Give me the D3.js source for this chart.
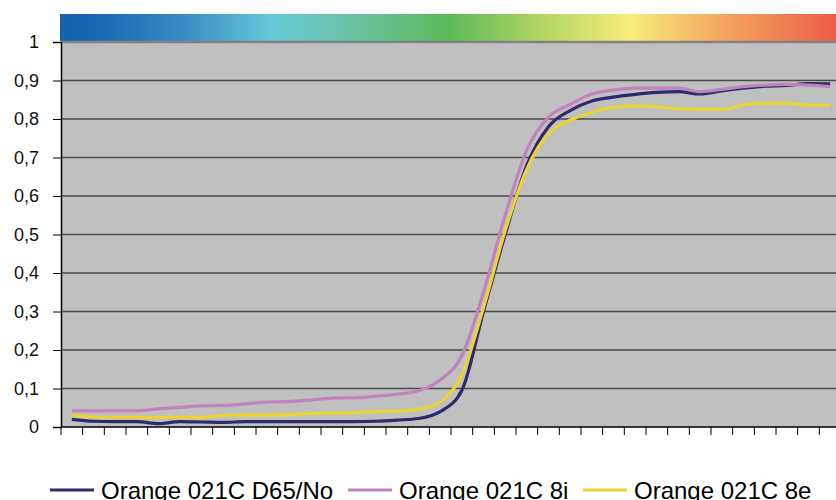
<!DOCTYPE html>
<html>
<head>
<meta charset="utf-8">
<script src="https://cdn.jsdelivr.net/npm/d3@7"></script>
<style>
  body { margin: 0; background: #fff; }
  svg { display: block; font-family: "Liberation Sans", Arial, Helvetica, sans-serif; }
</style>
</head>
<body>
<div class="chart"></div>
<script>
// wavelengths 380..730 nm, one point each 10 nm
const wavelengths = [380,390,400,410,420,430,440,450,460,470,480,490,500,510,520,530,540,550,
                     560,570,580,590,600,610,620,630,640,650,660,670,680,690,700,710,720,730];

const d65No = [0.020,0.015,0.014,0.014,0.009,0.014,0.013,0.012,0.014,0.014,0.014,0.014,0.014,0.014,0.015,0.018,0.022,0.040,
               0.095,0.30,0.50,0.68,0.78,0.822,0.847,0.857,0.864,0.869,0.871,0.865,0.873,0.880,0.885,0.887,0.892,0.891];
const s8i   = [0.042,0.042,0.042,0.042,0.047,0.051,0.055,0.056,0.060,0.065,0.066,0.070,0.075,0.076,0.080,0.085,0.094,0.122,
               0.185,0.35,0.55,0.72,0.805,0.838,0.865,0.875,0.880,0.880,0.880,0.871,0.877,0.884,0.888,0.890,0.888,0.884];
const s8e   = [0.030,0.026,0.025,0.025,0.025,0.025,0.025,0.030,0.031,0.031,0.032,0.035,0.036,0.037,0.040,0.041,0.046,0.065,
               0.135,0.31,0.51,0.67,0.762,0.797,0.817,0.830,0.834,0.832,0.826,0.825,0.825,0.837,0.841,0.841,0.836,0.836];

const seriesNames = ["Orange 021C D65/No", "Orange 021C 8i", "Orange 021C 8e"];
const seriesColors = ["#2d2b6d", "#c283bd", "#ecd432"];
const yTicks = [0,0.1,0.2,0.3,0.4,0.5,0.6,0.7,0.8,0.9,1];

const W = 836, H = 500;
const plotLeft = 61, plotRight = 841, plotTop = 42, plotBottom = 427;

const svg = d3.select('.chart').append('svg')
    .attr('width', W)
    .attr('height', H);

// spectrum bar
const grad = svg.append('defs').append('linearGradient')
    .attr('id', 'spec').attr('x1', '0%').attr('x2', '100%');
[[0,'#1462af'],[0.05,'#1a67b2'],[0.16,'#3a8bc3'],[0.27,'#63c8d8'],[0.36,'#6cc3ad'],
 [0.50,'#5bba5a'],[0.62,'#b2d562'],[0.735,'#f6ee79'],[0.83,'#f4b264'],[1,'#ee5d48']]
  .forEach(s => grad.append('stop').attr('offset', s[0]).attr('stop-color', s[1]));

svg.append('rect')
    .attr('x', 60).attr('y', 14)
    .attr('width', W - 60).attr('height', 27)
    .attr('fill', 'url(#spec)');

const x = d3.scaleBand().domain(wavelengths).range([plotLeft, plotRight]);
const y = d3.scaleLinear().domain([0, 1]).range([plotBottom, plotTop]);

// plot background
svg.append('rect')
    .attr('x', plotLeft).attr('y', plotTop)
    .attr('width', plotRight - plotLeft).attr('height', plotBottom - plotTop)
    .attr('fill', '#c0c0c0');

// grid
svg.append('g').selectAll('line')
    .data(yTicks.filter(d => d > 0))
    .join('line')
    .attr('x1', plotLeft).attr('x2', plotRight)
    .attr('y1', d => y(d)).attr('y2', d => y(d))
    .attr('stroke', d => d === 1 ? '#828282' : '#4a4a4a')
    .attr('stroke-width', d => d === 1 ? 2.5 : 1.5);

// y axis
const yAxis = d3.axisLeft(y)
    .tickValues(yTicks)
    .tickSize(8)
    .tickPadding(14)
    .tickFormat(d => d3.format('.1~f')(d).replace('.', ','));

svg.append('g')
    .attr('class', 'y-axis')
    .attr('transform', `translate(${plotLeft},0)`)
    .call(yAxis)
    .call(g => g.select('.domain').attr('stroke', '#000').attr('stroke-width', 1.5))
    .call(g => g.selectAll('.tick line').attr('stroke', '#000'))
    .call(g => g.selectAll('.tick text').attr('font-size', 18).attr('fill', '#111')
        .attr('font-family', '"Liberation Sans", Arial, sans-serif'));

// x axis: line and tick marks between categories
svg.append('line')
    .attr('x1', plotLeft).attr('x2', plotRight)
    .attr('y1', plotBottom).attr('y2', plotBottom)
    .attr('stroke', '#000').attr('stroke-width', 1.5);

svg.append('g').selectAll('line')
    .data(wavelengths)
    .join('line')
    .attr('x1', d => x(d)).attr('x2', d => x(d))
    .attr('y1', plotBottom).attr('y2', plotBottom + 8)
    .attr('stroke', '#000');

// series
const allSeries = [d65No, s8i, s8e];
const line = d3.line()
    .x((d, i) => x(wavelengths[i]) + x.bandwidth() / 2)
    .y(d => y(d))
    .curve(d3.curveMonotoneX);

svg.append('g').selectAll('path')
    .data(allSeries)
    .join('path')
    .attr('d', d => line(d))
    .attr('fill', 'none')
    .attr('stroke', (d, i) => seriesColors[i])
    .attr('stroke-width', 3.2)
    .attr('stroke-linejoin', 'round');

// legend
const legendX = [50, 348, 583];
const legend = svg.append('g').selectAll('g')
    .data(seriesNames)
    .join('g')
    .attr('transform', (d, i) => `translate(${legendX[i]},490)`);

legend.append('line')
    .attr('x1', 0).attr('x2', 44)
    .attr('stroke', (d, i) => seriesColors[i])
    .attr('stroke-width', 3);

legend.append('text')
    .attr('x', 51)
    .attr('y', 9)
    .attr('font-size', 24)
    .attr('fill', '#000')
    .text(d => d);
</script>
</body>
</html>
